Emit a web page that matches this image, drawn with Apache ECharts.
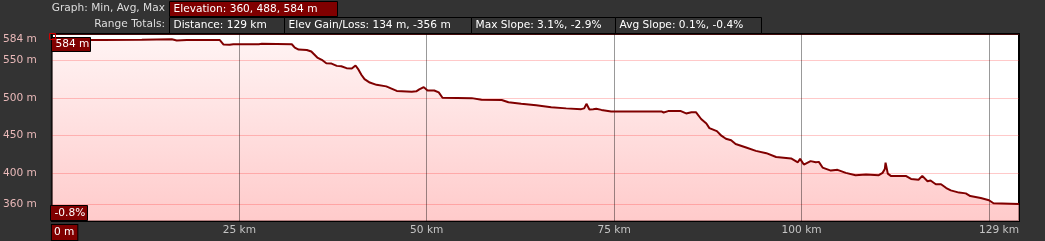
<!DOCTYPE html>
<html>
<head>
<meta charset="utf-8">
<script src="https://cdn.jsdelivr.net/npm/echarts@6/dist/echarts.min.js"></script>
<style>
html,body{margin:0;padding:0;background:#333333;}
#chart{width:1045px;height:241px;}
</style>
</head>
<body>
<div id="chart"></div>
<script>
const distanceKm = [0, 6.7, 12, 16, 16.65, 18, 22.4, 22.9, 23.7, 24.2, 27.6, 28, 28.2, 32, 32.4, 32.9, 34, 34.6, 34.9, 35.4, 36, 36.6, 37.3, 38, 38.6, 39.3, 40, 40.2, 40.5, 40.9, 41.3, 41.7, 42.4, 43.3, 44.6, 45.3, 46, 48, 48.6, 49, 49.6, 50.1, 51, 51.6, 52.1, 56, 57.3, 60, 60.9, 62.6, 64.6, 66.6, 68.6, 70.6, 71, 71.3, 71.7, 72.2, 72.6, 73.3, 74.6, 81.3, 81.6, 82.2, 83.9, 84.6, 85.3, 85.9, 86.6, 87.3, 87.7, 88.2, 88.7, 89.3, 89.9, 90.6, 91.2, 92.6, 93.9, 95.3, 96.6, 98.6, 99.5, 99.8, 100.3, 101.2, 101.9, 102.3, 102.8, 103.9, 104.8, 105.9, 107.2, 108.6, 110.3, 110.8, 111.1, 111.2, 111.5, 111.9, 113.9, 114.6, 115.6, 116.1, 116.8, 117.2, 117.9, 118.6, 119.3, 119.9, 121, 121.9, 122.5, 123.9, 125, 125.6, 129];
const elevationM = [576, 576, 576.5, 577, 575.5, 576, 576, 570, 569.7, 570.5, 570.5, 571, 570.3, 570.5, 566, 563.5, 563, 561, 558, 553, 550, 545.5, 545, 542, 541.5, 539, 538.5, 537, 542.5, 537, 530, 524.5, 520, 517, 515, 512, 509, 508, 508.5, 511, 514, 509.5, 509.5, 507, 500, 499.5, 497.5, 497, 494, 492, 490, 487.6, 486, 485, 486, 492, 484.5, 485, 485.5, 484, 482, 482, 480.6, 482.4, 482.4, 479.3, 481, 481, 472, 466, 460, 458, 456, 450, 446, 444, 439, 434.5, 430, 427, 422, 420, 415, 419.5, 412, 416.5, 415, 415.5, 408, 404, 405, 401, 398, 399, 398, 401, 406, 414.5, 400, 397, 397, 393, 392, 397, 390, 391, 386, 386, 381, 378, 375, 374, 370.5, 368, 365, 361, 360];

const yTickValues = [360, 400, 450, 500, 550, 584];
const xMaxKm = 129;
const yMin = 337.6, yMax = 584;

const headerRow1Label = 'Graph: Min, Avg, Max';
const headerRow1Box = 'Elevation: 360, 488, 584 m';
const headerRow2Label = 'Range Totals:';
const headerRow2Boxes = ['Distance: 129 km', 'Elev Gain/Loss: 134 m, -356 m', 'Max Slope: 3.1%, -2.9%', 'Avg Slope: 0.1%, -0.4%'];
const maxMarkerText = '584 m';
const slopeMarkerText = '-0.8%';

const FONT = '"DejaVu Sans", "Lucida Grande", sans-serif';
const FS = 10.6;
const chart = echarts.init(document.getElementById('chart'), null, {renderer: 'canvas'});

const seriesData = distanceKm.map((d, i) => [d, elevationM[i]]);

function box(x, y, w, h, text, fill, stroke, textColor) {
  return {
    type: 'group', left: x, top: y, silent: true, z: 100,
    children: [
      {type: 'rect', z: 100, shape: {x: 0, y: 0, width: w, height: h}, style: {fill: fill, stroke: stroke, lineWidth: 1}},
      {type: 'text', z: 101, x: 4, y: h / 2, style: {text: text, fill: textColor, font: FS + 'px ' + FONT, textVerticalAlign: 'middle'}}
    ]
  };
}

const row2X = [169, 284, 471, 615, 761];
const graphics = [
  {type: 'text', right: 880, top: 3, z: 100, style: {text: headerRow1Label, fill: '#dddddd', font: FS + 'px ' + FONT}, silent: true},
  box(169, 1, 168, 15, headerRow1Box, '#800000', '#000000', '#ffffff'),
  {type: 'text', right: 880, top: 19, z: 100, style: {text: headerRow2Label, fill: '#dddddd', font: FS + 'px ' + FONT}, silent: true}
];
headerRow2Boxes.forEach((t, i) => {
  graphics.push(box(row2X[i], 17, row2X[i + 1] - row2X[i], 16, t, '#333333', '#000000', '#ffffff'));
});
graphics.push(box(51, 37, 39, 14, maxMarkerText, '#800000', '#000000', '#ffffff'));
graphics.push(box(50, 205, 37, 15, slopeMarkerText, '#800000', '#000000', '#ffffff'));
graphics.push({type: 'rect', left: 47, top: 31, z: 100, shape: {width: 6, height: 6}, style: {fill: 'none', stroke: '#cc0000', lineWidth: 1}, silent: true});

chart.setOption({
  animation: false,
  backgroundColor: '#333333',
  grid: {left: 50, right: 26, top: 34, bottom: 19, show: true, backgroundColor: '#ffffff', borderColor: '#000000', borderWidth: 2, containLabel: false},
  xAxis: {
    type: 'value', min: 0, max: xMaxKm, interval: 25, z: 5,
    axisLine: {show: false}, axisTick: {show: false},
    splitLine: {show: true, lineStyle: {color: 'rgba(0,0,0,0.4)', width: 1}},
    axisLabel: {
      color: '#c4c4c4', fontFamily: FONT, fontSize: FS, margin: 4,
      alignMinLabel: 'left', alignMaxLabel: 'right',
      formatter: function (v) {
        if (v === 0) return '{b|0 m}';
        if (v === 125) return '';
        return v + ' km';
      },
      rich: {b: {backgroundColor: '#800000', borderColor: '#000000', borderWidth: 1, color: '#ffffff', fontFamily: FONT, fontSize: FS, padding: [2, 3, 2, 2]}}
    }
  },
  yAxis: {
    type: 'value', min: yMin, max: yMax, z: 5,
    axisLine: {show: false},
    axisTick: {show: false, customValues: yTickValues},
    splitLine: {show: true, lineStyle: {color: 'rgba(255,40,40,0.25)', width: 1}},
    axisLabel: {
      customValues: yTickValues,
      color: '#e8b8b8', fontFamily: FONT, fontSize: FS, margin: 15,
      verticalAlignMaxLabel: 'top',
      formatter: function (v) { return Math.round(v) + ' m'; }
    }
  },
  graphic: graphics,
  series: [{
    type: 'line', data: seriesData, showSymbol: false, symbol: 'none',
    lineStyle: {width: 0, opacity: 0},
    areaStyle: {
      origin: 'start',
      color: new echarts.graphic.LinearGradient(0, 0, 0, 1, [
        {offset: 0, color: '#ffeeee'},
        {offset: 1, color: '#ffb4b4'}
      ])
    },
    z: 1
  }, {
    type: 'line', data: seriesData, showSymbol: false, symbol: 'none',
    lineStyle: {color: '#800000', width: 2},
    z: 10
  }]
});
</script>
</body>
</html>
